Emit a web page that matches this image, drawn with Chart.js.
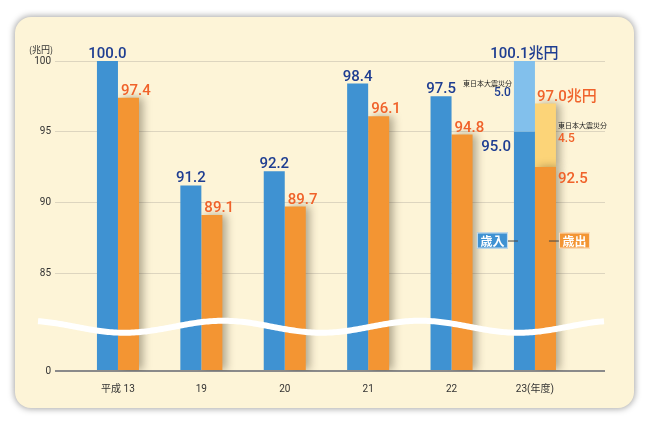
<!DOCTYPE html>
<html>
<head>
<meta charset="utf-8">
<script src="https://cdn.jsdelivr.net/npm/chart.js@4.4.1/dist/chart.umd.min.js"></script>
<style>
  html, body { margin: 0; padding: 0; background: #ffffff; }
  #wrap { position: relative; width: 650px; height: 423px; overflow: hidden; }
  #card {
    position: absolute; left: 15px; top: 17px; width: 619px; height: 391px;
    background: #fdf4d7; border-radius: 16px;
    box-shadow: 0 0 6px 1px rgba(0, 0, 0, 0.35);
  }
  #chart { position: absolute; left: 0; top: 0; }
</style>
</head>
<body>
<div id="wrap">
  <div id="card"></div>
  <canvas id="chart" width="650" height="423"></canvas>
</div>
<script>
// データ
const CATEGORIES = ['平成 13', '19', '20', '21', '22', '23(年度)'];
const REVENUE = [100.0, 91.2, 92.2, 98.4, 97.5, 95.0];          // 歳入
const REVENUE_QUAKE = [null, null, null, null, null, 5.0];        // 歳入 東日本大震災分
const SPENDING = [97.4, 89.1, 89.7, 96.1, 94.8, 92.5];            // 歳出
const SPENDING_QUAKE = [null, null, null, null, null, 4.5];       // 歳出 東日本大震災分
const TOTAL_LABELS = ['100.1兆円', '97.0兆円'];
const Y_TICKS = [85, 90, 95, 100];

// 軸の省略（0 の位置を仮想値に置く）
const Y_ZERO = 78.07;
const WAVE_VALUE = 81.2;

const NAVY = '#1e3d91';
const ORANGE_TXT = '#f0622a';
const FONT = "Roboto, 'Noto Sans CJK JP', sans-serif";
const JP = "'Noto Sans CJK JP', sans-serif";

// 棒の影（歳出側のみ）
const shadowPlugin = {
  id: 'shadow',
  beforeDatasetDraw(chart, args) {
    const ctx = chart.ctx;
    ctx.save();
    if (args.index >= 2) {
      ctx.shadowColor = 'rgba(60, 50, 30, 0.4)';
      ctx.shadowBlur = 8;
      ctx.shadowOffsetX = 4;
    }
  },
  afterDatasetDraw(chart) {
    chart.ctx.restore();
  }
};

// ラベル・波線・凡例
const labelPlugin = {
  id: 'labels',
  afterDatasetsDraw(chart) {
    const ctx = chart.ctx;
    const area = chart.chartArea;
    const y = chart.scales.y;
    const inMeta = chart.getDatasetMeta(0);
    const inQMeta = chart.getDatasetMeta(1);
    const outMeta = chart.getDatasetMeta(2);
    const outQMeta = chart.getDatasetMeta(3);

    // 波線
    const yc = y.getPixelForValue(WAVE_VALUE);
    ctx.save();
    ctx.strokeStyle = '#ffffff';
    ctx.lineWidth = 6;
    ctx.beginPath();
    for (let x = area.left - 17; x <= area.right; x += 2) {
      const wy = yc - 6 * Math.cos(2 * Math.PI * (x - 223) / 197);
      if (x === area.left - 17) ctx.moveTo(x, wy); else ctx.lineTo(x, wy);
    }
    ctx.stroke();
    ctx.restore();

    ctx.save();
    ctx.textBaseline = 'alphabetic';
    ctx.font = '500 15px ' + FONT;
    const last = CATEGORIES.length - 1;
    for (let i = 0; i < last; i++) {
      const b = inMeta.data[i];
      ctx.fillStyle = NAVY;
      ctx.textAlign = 'center';
      ctx.fillText(REVENUE[i].toFixed(1), b.x, b.y - 3);
      const o = outMeta.data[i];
      ctx.fillStyle = ORANGE_TXT;
      ctx.textAlign = 'left';
      ctx.fillText(SPENDING[i].toFixed(1), o.x - o.width / 2 + 3, o.y - 3);
    }

    // 23年度
    const bi = inMeta.data[last];
    const bq = inQMeta.data[last];
    const oi = outMeta.data[last];
    const oq = outQMeta.data[last];
    const bLeft = bi.x - bi.width / 2;
    const oLeft = oi.x - oi.width / 2;
    const oRight = oi.x + oi.width / 2;

    ctx.fillStyle = NAVY;
    ctx.textAlign = 'center';
    ctx.fillText(TOTAL_LABELS[0], bi.x, bq.y - 3);
    ctx.textAlign = 'right';
    ctx.fillText(REVENUE[last].toFixed(1), bLeft - 3, bi.y + 19);
    const bMid = (bq.y + bq.base) / 2;
    ctx.font = '500 12px ' + FONT;
    ctx.fillText(REVENUE_QUAKE[last].toFixed(1), bLeft - 3, bMid);
    ctx.font = '7px ' + JP;
    ctx.fillStyle = '#222';
    ctx.fillText('東日本大震災分', bLeft - 2, bMid - 10);

    ctx.font = '500 15px ' + FONT;
    ctx.fillStyle = ORANGE_TXT;
    ctx.textAlign = 'left';
    ctx.fillText(TOTAL_LABELS[1], oLeft + 2, oq.y - 2);
    ctx.fillText(SPENDING[last].toFixed(1), oRight + 2, oi.y + 16);
    const oMid = (oq.y + oq.base) / 2;
    ctx.font = '500 12px ' + FONT;
    ctx.fillText(SPENDING_QUAKE[last].toFixed(1), oRight + 2, oMid + 7);
    ctx.font = '7px ' + JP;
    ctx.fillStyle = '#222';
    ctx.fillText('東日本大震災分', oRight + 2, oMid - 7);

    // 凡例ボックス
    const ly = y.getPixelForValue(87.3);
    const drawBox = (x0, text, fill) => {
      ctx.fillStyle = fill;
      ctx.fillRect(x0, ly - 8, 31, 16);
      ctx.strokeStyle = 'rgba(255,255,255,0.7)';
      ctx.lineWidth = 1;
      ctx.strokeRect(x0 + 0.5, ly - 7.5, 30, 15);
      ctx.fillStyle = '#ffffff';
      ctx.font = 'bold 12px ' + JP;
      ctx.textAlign = 'center';
      ctx.textBaseline = 'middle';
      ctx.fillText(text, x0 + 15.5, ly + 0.5);
    };
    ctx.strokeStyle = '#444';
    ctx.lineWidth = 1;
    ctx.beginPath();
    ctx.moveTo(bLeft - 6, ly + 0.5); ctx.lineTo(bLeft + 4, ly + 0.5);
    ctx.moveTo(oRight - 7, ly + 0.5); ctx.lineTo(oRight + 3, ly + 0.5);
    ctx.stroke();
    drawBox(bLeft - 37, '歳入', '#3f92d2');
    drawBox(oRight + 3, '歳出', '#f39533');

    // 単位
    ctx.fillStyle = '#333';
    ctx.font = '9px ' + JP;
    ctx.textAlign = 'right';
    ctx.textBaseline = 'alphabetic';
    ctx.fillText('(兆円)', area.left - 2, area.top - 8);
    ctx.restore();
  }
};

const ctx = document.getElementById('chart').getContext('2d');
new Chart(ctx, {
  type: 'bar',
  data: {
    labels: CATEGORIES.map((_, i) => i),
    datasets: [{
      label: '歳入',
      data: REVENUE,
      stack: 'in',
      base: Y_ZERO,
      backgroundColor: '#3f92d2'
    }, {
      label: '歳入 東日本大震災分',
      data: REVENUE_QUAKE,
      stack: 'in',
      backgroundColor: '#82c0ec'
    }, {
      label: '歳出',
      data: SPENDING,
      stack: 'out',
      base: Y_ZERO,
      backgroundColor: '#f39533'
    }, {
      label: '歳出 東日本大震災分',
      data: SPENDING_QUAKE,
      stack: 'out',
      backgroundColor: '#fcd478'
    }]
  },
  options: {
    responsive: false,
    animation: false,
    categoryPercentage: 0.504,
    barPercentage: 1,
    layout: { padding: { left: 0, right: 45, top: 61, bottom: 0 } },
    plugins: {
      legend: { display: false },
      tooltip: { enabled: false }
    },
    scales: {
      x: {
        type: 'linear',
        offset: false,
        min: -0.755,
        max: 5.84,
        afterBuildTicks: (axis) => {
          axis.ticks = CATEGORIES.map((_, i) => ({ value: i }));
        },
        afterFit: (axis) => { axis.height = 52; },
        ticks: {
          color: '#333',
          font: { size: 10, family: FONT },
          padding: 4,
          maxRotation: 0,
          autoSkip: false,
          callback: (v) => CATEGORIES[v]
        },
        grid: { display: false, offset: false },
        border: { display: false }
      },
      y: {
        stacked: true,
        min: Y_ZERO,
        max: 100,
        afterBuildTicks: (axis) => {
          axis.ticks = [Y_ZERO].concat(Y_TICKS).map(v => ({ value: v }));
        },
        afterFit: (axis) => { axis.width = 55; },
        ticks: {
          color: '#333',
          font: { size: 10, family: FONT },
          padding: 4,
          callback: (v) => v === Y_ZERO ? '0' : v
        },
        grid: {
          drawTicks: false,
          color: (c) => c.tick && c.tick.value === Y_ZERO ? '#8a8a8a' : '#ddd5bf',
          lineWidth: (c) => c.tick && c.tick.value === Y_ZERO ? 2 : 1
        },
        border: { display: false }
      }
    }
  },
  plugins: [shadowPlugin, labelPlugin]
});
</script>
</body>
</html>
